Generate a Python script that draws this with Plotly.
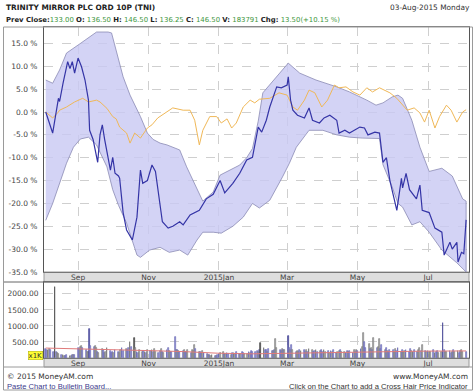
import pandas as pd
import plotly.graph_objects as go

# ---------------- data ----------------
base_date = "2014-08-03"

# stock % change (day offset from base_date, value in %)
stock_day = [1, 7, 12, 13, 16, 20, 22, 24, 26, 29, 32, 35, 38, 39, 42, 45, 46, 48, 50, 52, 55, 57, 59, 61, 64,
             65, 68, 71, 76, 80, 83, 85, 89, 93, 96, 98, 102, 107, 111, 117, 120, 126, 134, 140, 146, 152, 156,
             163, 169, 175, 180, 185, 188, 192, 195, 201, 205, 210, 211, 213, 215, 219, 225, 229, 232, 238, 242,
             247, 253, 255, 260, 264, 273, 277, 280, 286, 290, 293, 296, 299, 305, 309, 310, 313, 316, 322, 325,
             327, 333, 338, 344, 346, 351, 353, 357, 358, 361, 363, 365]
stock_pct = [0.0, -4.6, 3.0, 2.3, 6.3, 11.0, 9.5, 11.0, 8.5, 11.8, 9.9, 7.0, 2.6, -4.0, -6.0, -10.0, -11.0, -5.0,
             -2.8, -6.0, -10.5, -12.7, -9.9, -13.4, -14.0,
             -14.5, -22.0, -25.8, -28.0, -23.0, -12.7, -15.6, -15.0, -11.6, -13.0, -17.0, -24.0, -25.4, -25.0,
             -24.0, -24.7, -22.5, -21.5, -19.0, -18.0, -15.0, -17.7,
             -15.6, -13.4, -10.5, -9.9, -3.3, -4.4, -1.8, 1.1, 5.5, 5.3, 5.9, 7.7, 2.6, 0.4, -0.7, -1.3, 0.9,
             -1.8, -2.4, -1.3,
             -0.7, -1.8, -4.6, -4.0, -4.6, -3.3, -3.5, -5.0, -4.4, -4.6, -11.0, -10.0, -15.0, -21.5, -14.5,
             -16.6, -13.4, -17.0, -19.0, -16.0,
             -21.5, -22.0, -25.4, -26.3, -31.3, -28.5, -30.0, -28.5, -32.8, -30.7, -31.0, -23.6]

# index % change
index_day = [1, 7, 12, 13, 19, 25, 26, 33, 38, 45, 48, 54, 59, 62, 65, 71, 74, 78, 83, 89, 93, 98, 106, 111,
             120, 126, 130, 134, 137, 143, 149, 153, 158, 162, 166, 172, 178, 182, 186, 195, 203, 210, 215,
             219, 225, 229, 234, 240, 245, 251, 255, 261, 267, 273, 279, 284, 290, 294, 299, 305, 310, 314,
             320, 325, 329, 333, 338, 342, 348, 352, 357, 362, 365]
index_pct = [0.0, -1.3, 0.0, 0.4, 1.1, 2.0, 2.2, 3.0, 2.2, 2.6, 2.2, 0.8, -1.0, -1.5, -3.3, -4.6, -6.8, -4.6,
             -5.7, -3.5, -2.8, -1.3, 0.0, 0.9,
             0.4, 0.4, -1.8, -7.2, -4.0, -1.0, -1.0, -2.4, -1.5, -3.5, -2.4, 1.1, 2.6, 2.0, 2.8, 3.0, 4.2,
             3.7, 1.1,
             0.4, 2.6, 4.8, 4.2, 1.1, 2.6, 5.9, 5.3, 5.5, 4.4, 3.7, 5.3, 4.4, 5.3, 4.8, 4.2, 3.0, 1.5, 0.4,
             0.9, -0.2, -2.2, 0.4, -3.5, -1.0, 1.5, 0.4, -2.2, 0.0, 0.5]

# envelope (upper / lower band)
upper_day = [1, 7, 13, 19, 31, 39, 45, 55, 58, 68, 74, 83, 89, 94, 100, 106, 117, 123, 132, 137, 146, 152,
             169, 175, 180, 185, 189, 201, 211, 221, 235, 253, 264, 279, 287, 293, 301, 306, 310, 318, 325,
             333, 344, 353, 362, 365]
upper_pct = [7.0, 6.3, 9.2, 12.9, 15.0, 16.4, 17.5, 17.5, 17.3, 7.7, 3.7, -1.0, -4.6, -6.0, -6.8, -7.2, -8.3,
             -12.0, -17.0, -19.5, -17.5, -13.8,
             -11.6, -10.0, -8.0, -2.0, 4.2, 7.7, 10.7, 8.5, 7.0, 5.5, 4.4, 2.6, 1.5, 2.0, 3.3, 3.7, 3.0, -1.8,
             -7.7, -13.0, -12.3, -14.0, -19.0, -19.5]
lower_day = [1, 7, 13, 19, 25, 31, 38, 45, 54, 59, 64, 71, 80, 83, 91, 100, 108, 117, 124, 132, 137, 146, 153,
             163, 172, 180, 186, 195, 206, 212, 218, 229, 241, 253, 264, 275, 290, 293, 301, 306, 310, 318,
             325, 333, 344, 357, 365]
lower_pct = [-23.7, -20.0, -15.6, -11.2, -7.7, -5.9, -5.5, -7.2, -12.0, -17.0, -20.4, -24.3, -31.3, -31.8,
             -30.2, -29.6, -30.7, -30.2, -31.3, -28.0, -26.3, -26.3, -26.5,
             -25.0, -23.0, -20.0, -21.0, -19.3, -14.2, -11.2, -7.7, -4.0, -4.0, -5.0, -5.5, -5.7, -5.8, -11.5,
             -16.4, -20.0, -20.8, -24.7,
             -24.0, -26.3, -30.2, -33.0, -35.0]

# daily volume (thousands), one value per weekday Aug-2014 .. 03-Aug-2015
volume_k = (
    [280, 260, 240, 270, 250, 200, 2200, 180, 150, 120, 90, 80, 70, 60, 90, 70, 60, 80, 100, 90]
    + [300, 280, 350, 370, 320, 250, 200, 180, 900, 380, 350, 370, 300, 200, 150, 280, 250, 160, 190, 300, 220, 170]
    + [180, 150, 240, 200, 170, 250, 300, 220, 280, 260, 320, 500, 350, 620, 300, 200, 150, 250, 180, 230, 200, 160, 260]
    + [210, 250, 180, 270, 200, 160, 230, 280, 190, 170, 250, 300, 220, 180, 200, 650, 240, 260, 210, 180]
    + [220, 250, 180, 200, 240, 170, 260, 230, 400, 280, 200, 180, 150, 210, 170, 130, 90, 80, 60, 100, 70, 60, 90]
    + [120, 150, 180, 140, 110, 160, 130, 100, 170, 150, 120, 200, 140, 130, 180, 160, 110, 140, 200, 170, 230, 180]
    + [180, 220, 200, 250, 470, 300, 260, 240, 200, 280, 230, 210, 260, 600, 310, 250, 220, 280, 240, 260]
    + [690, 300, 250, 400, 260, 200, 230, 180, 250, 220, 260, 200, 240, 190, 280, 250, 200, 230, 260, 180, 210, 240]
    + [200, 250, 180, 220, 160, 230, 200, 240, 170, 190, 210, 260, 180, 200, 150, 230, 190, 210, 170, 240, 200, 250]
    + [230, 280, 350, 780, 500, 300, 450, 280, 320, 250, 620, 300, 350, 600, 280, 400, 250, 300, 220, 200, 260]
    + [250, 200, 280, 220, 300, 180, 250, 200, 230, 260, 190, 270, 220, 180, 240, 200, 250, 300, 220, 400, 230, 200]
    + [220, 180, 200, 250, 160, 190, 230, 170, 200, 1090, 250, 200, 180, 220, 160, 200, 250, 190, 230, 170, 210, 240, 200]
    + [184]
)
# bar kind per day: u = up, d = down, g = heavy grey, b = heavy blue
volume_kind = "".join([
    "uuddu", "ugudd", "udduu", "ddudu",
    "uuddu", "uddbu", "uddud", "duudd", "uu",
    "uduud", "duudu", "udugd", "uuddu", "dud",
    "ududd", "uudud", "uuddu", "ududu",
    "uduud", "udddu", "duudu", "ududd", "udu",
    "uddud", "uudud", "duudu", "uddud", "uu",
    "uudug", "duudu", "ududd", "uudud",
    "budud", "uddud", "uudud", "duudu", "du",
    "uddud", "uduud", "duddu", "uduud", "ud",
    "uuddu", "ududu", "duddu", "ududu", "u",
    "udduu", "duddu", "uuddu", "uddud", "ud",
    "uddud", "uuddb", "udduu", "duddu", "udd",
    "u",
])
# volume moving average (thousands)
vol_ma_day = [1, 30, 60, 90, 120, 150, 180, 210, 240, 270, 300, 330, 365]
vol_ma_k = [310, 290, 260, 230, 200, 150, 130, 150, 170, 185, 200, 215, 220]

month_ticks = ["2014-09-01", "2014-11-01", "2015-01-01", "2015-03-01", "2015-05-01", "2015-07-01"]
month_labels = ["Sep", "Nov", "2015Jan", "Mar", "May", "Jul"]
pct_ticks = [15, 10, 5, 0, -5, -10, -15, -20, -25, -30, -35]
vol_ticks = [500, 1000, 1500, 2000]

# ---------------- build ----------------
b0 = pd.Timestamp(base_date)
def dates(days):
    return [b0 + pd.Timedelta(days=d) for d in days]

vol_dates = pd.bdate_range("2014-08-04", "2015-08-03")
n = min(len(vol_dates), len(volume_k))
vol_dates = vol_dates[:n]
volume_k = volume_k[:n]
kinds = (volume_kind + "u" * n)[:n]
fill_map = {"u": "#d0d0f4", "d": "#ffffff", "g": "#666666", "b": "#7474c4"}
line_map = {"u": "#5c5cb0", "d": "#6a6a6a", "g": "#404040", "b": "#3c3c90"}

FONT = "DejaVu Sans"
fig = go.Figure()

# band
band_x = dates(upper_day) + dates(lower_day)[::-1]
band_y = upper_pct + lower_pct[::-1]
fig.add_trace(go.Scatter(x=band_x, y=band_y, fill="toself", fillcolor="rgba(200,200,242,0.8)",
                         line=dict(color="#8a8ab4", width=0.8), mode="lines", xaxis="x", yaxis="y",
                         hoverinfo="skip"))
fig.add_trace(go.Scatter(x=dates(index_day), y=index_pct, mode="lines",
                         line=dict(color="#f0b858", width=1), xaxis="x", yaxis="y"))
fig.add_trace(go.Scatter(x=dates(stock_day), y=stock_pct, mode="lines",
                         line=dict(color="#3434a6", width=1.2), xaxis="x", yaxis="y"))

fig.add_trace(go.Bar(x=vol_dates, y=volume_k, xaxis="x2", yaxis="y2",
                     width=0.75 * 86400000,
                     marker=dict(color=[fill_map[k] for k in kinds],
                                 line=dict(color=[line_map[k] for k in kinds], width=0.7))))
fig.add_trace(go.Scatter(x=dates(vol_ma_day), y=vol_ma_k, mode="lines", xaxis="x2", yaxis="y2",
                         line=dict(color="#e07a7a", width=1)))

W, H = 475, 392
L, R, T, B = 44, 6, 27, 34
PW, PH = W - L - R, H - T - B
def px(xp):
    return (xp - L) / PW
def py(yp):
    return (H - B - yp) / PH

main_bottom, vol_top = 272, 282
xr = ["2014-08-02 12:00", "2015-08-05 12:00"]
axis_font = dict(family=FONT, size=7.5, color="#444444")
grid = dict(showgrid=True, gridcolor="#cfcfcf", griddash="dash", gridwidth=1)

fig.update_layout(
    width=W, height=H, margin=dict(l=L, r=R, t=T, b=B, pad=0),
    paper_bgcolor="white", plot_bgcolor="white", showlegend=False, hovermode=False,
    bargap=0,
    xaxis=dict(domain=[0, 1], range=xr, type="date", anchor="y", tickvals=month_ticks, ticktext=month_labels,
               tickfont=axis_font, ticks="", showline=True, linecolor="#777777", mirror=True,
               zeroline=False, ticklabelstandoff=-2, **grid),
    xaxis2=dict(domain=[0, 1], range=xr, type="date", anchor="y2", matches="x", tickvals=month_ticks,
                ticktext=month_labels, tickfont=axis_font, ticks="", showline=True, linecolor="#777777",
                mirror=True, zeroline=False, ticklabelstandoff=-2, **grid),
    yaxis=dict(domain=[py(main_bottom), 1], range=[-35, 18.6], tickvals=pct_ticks,
               ticktext=[f"{v:.1f} %" for v in pct_ticks], tickfont=axis_font, ticks="",
               showline=True, linecolor="#555555", mirror=True, zeroline=False, ticklabelstandoff=4, **grid),
    yaxis2=dict(domain=[0, py(vol_top)], range=[0, 2370], tickvals=vol_ticks,
                ticktext=[f"{v:.2f}" for v in vol_ticks], tickfont=axis_font, ticks="",
                showline=True, linecolor="#555555", mirror=True, zeroline=False, ticklabelstandoff=3, **grid),
)

shapes = [
    # month bands
    dict(type="rect", xref="paper", yref="paper", x0=0, x1=1, y0=py(vol_top), y1=py(main_bottom),
         fillcolor="#dedede", line=dict(color="#9a9a9a", width=1), layer="below"),
    dict(type="rect", xref="paper", yref="paper", x0=0, x1=1, y0=py(367), y1=py(358),
         fillcolor="#dedede", line=dict(color="#9a9a9a", width=1), layer="below"),
    # separator lines
    dict(type="line", xref="paper", yref="paper", x0=px(4), x1=1, y0=py(vol_top), y1=py(vol_top),
         line=dict(color="#666666", width=1)),
    dict(type="line", xref="paper", yref="paper", x0=px(4), x1=px(472), y0=py(367), y1=py(367),
         line=dict(color="#9a9a9a", width=1)),
    # outer frame
    dict(type="rect", xref="paper", yref="paper", x0=px(3.5), x1=px(472.5), y0=py(390), y1=py(T),
         line=dict(color="#9a9a9a", width=1), fillcolor="rgba(0,0,0,0)"),
]
fig.update_layout(shapes=shapes)

g = "#3c963c"
sub = (f"<b>Prev Close:</b><span style='color:{g}'>133.00</span> <b>O:</b> <span style='color:{g}'>136.50</span> "
       f"<b>H:</b> <span style='color:{g}'>146.50</span> <b>L:</b> <span style='color:{g}'>136.25</span> "
       f"<b>C:</b> <span style='color:{g}'>146.50</span> <b>V:</b> <span style='color:{g}'>183791</span> "
       f"<b>Chg:</b> <span style='color:{g}'>13.50(+10.15 %)</span>")
ann = [
    dict(text="<b>TRINITY MIRROR PLC ORD 10P (TNI)</b>", x=px(4), y=py(7.5), xanchor="left", yanchor="middle",
         font=dict(family=FONT, size=7.4, color="#222222")),
    dict(text="03-Aug-2015 Monday", x=px(472), y=py(7.5), xanchor="right", yanchor="middle",
         font=dict(family=FONT, size=7.4, color="#333333")),
    dict(text=sub, x=px(4), y=py(19.5), xanchor="left", yanchor="middle",
         font=dict(family=FONT, size=6.9, color="#222222")),
    dict(text="x1K", x=px(35.5), y=py(355.5), xanchor="center", yanchor="middle", bgcolor="#ffff33",
         borderpad=0, bordercolor="#aaaa00", borderwidth=0.5, font=dict(family=FONT, size=7, color="#333333")),
    dict(text="© 2015 MoneyAM.com", x=px(5), y=py(376), xanchor="left", yanchor="middle",
         font=dict(family=FONT, size=7.5, color="#333333")),
    dict(text="Paste Chart to Bulletin Board...", x=px(5), y=py(386.5), xanchor="left", yanchor="middle",
         font=dict(family="Liberation Sans", size=7.6, color="#3a3a8c")),
    dict(text="www.MoneyAM.com", x=px(470), y=py(376), xanchor="right", yanchor="middle",
         font=dict(family=FONT, size=7.5, color="#333333")),
    dict(text="Click on the Chart to add a Cross Hair Price Indicator", x=px(470), y=py(386.5),
         xanchor="right", yanchor="middle", font=dict(family="Liberation Sans", size=7.6, color="#333333")),
]
for a in ann:
    a.update(xref="paper", yref="paper", showarrow=False)
fig.update_layout(annotations=ann)

fig.write_html("out.html", config={"displayModeBar": False},
               post_script="document.body.style.margin='0';document.body.style.overflow='hidden';")
